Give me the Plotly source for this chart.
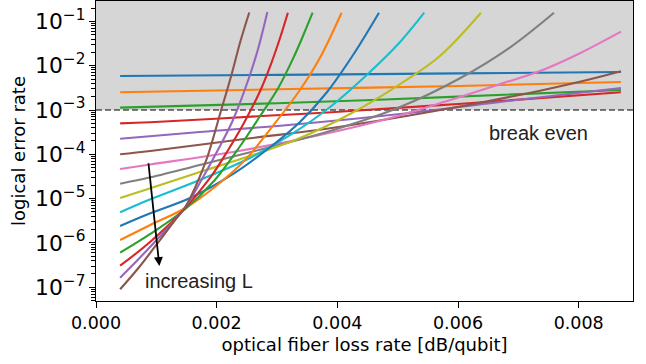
import math
import plotly.graph_objects as go

# ---- data ----
L1_x = [0.0004, 0.003, 0.006, 0.0087]
L1_y = [5.85e-3, 6.2e-3, 6.7e-3, 7.2e-3]
L2_x = [0.0004, 0.003, 0.006, 0.0087]
L2_y = [2.51e-3, 2.93e-3, 3.48e-3, 4.29e-3]
L3_x = [0.0004, 0.003, 0.006, 0.0087]
L3_y = [1.13e-3, 1.42e-3, 2.0e-3, 2.83e-3]
L4_x = [0.0004, 0.0009, 0.0029, 0.0039, 0.006, 0.0087]
L4_y = [5.0e-4, 5.3e-4, 7.5e-4, 8.9e-4, 1.37e-3, 2.51e-3]
L5_x = [0.0004, 0.00172, 0.00338, 0.00504, 0.0067, 0.0087]
L5_y = [2.25e-4, 3.19e-4, 4.83e-4, 8.12e-4, 1.52e-3, 3.14e-3]
L6_x = [0.0004, 0.0009, 0.00255, 0.00388, 0.00587, 0.00736, 0.00814, 0.0087]
L6_y = [1.0e-4, 1.19e-4, 2.3e-4, 3.86e-4, 1.09e-3, 2.73e-3, 4.75e-3, 7.47e-3]
L7_x = [0.0004, 0.0009, 0.00222, 0.00371, 0.00488, 0.00587, 0.0067, 0.00736, 0.00803, 0.0087]
L7_y = [4.66e-5, 5.9e-5, 1.1e-4, 2.73e-4, 6.6e-4, 1.68e-3, 3.86e-3, 7.59e-3, 1.94e-2, 5.86e-2]
L8_x = [0.0004, 0.0009, 0.00172, 0.00289, 0.00388, 0.00504, 0.00604, 0.00687, 0.00759]
L8_y = [2.17e-5, 3.03e-5, 5.73e-5, 1.46e-4, 3.36e-4, 1.17e-3, 5.28e-3, 2.64e-2, 0.157]
L9_x = [0.0004, 0.0009, 0.00172, 0.00255, 0.00338, 0.00421, 0.00504, 0.0057, 0.00638]
L9_y = [1.03e-5, 1.71e-5, 3.99e-5, 9.15e-5, 2.33e-4, 8.12e-4, 3.86e-3, 1.66e-2, 0.157]
L10_x = [0.0004, 0.0009, 0.00172, 0.00255, 0.00322, 0.00388, 0.00454, 0.00504, 0.00544]
L10_y = [4.91e-6, 9.64e-6, 2.63e-5, 8.25e-5, 2.73e-4, 1.17e-3, 7.21e-3, 3.43e-2, 0.157]
L11_x = [0.0004, 0.0009, 0.00156, 0.00222, 0.00289, 0.00338, 0.00383, 0.00426, 0.00469]
L11_y = [2.41e-6, 4.66e-6, 1.03e-5, 3.24e-5, 1.46e-4, 5.36e-4, 2.55e-3, 1.74e-2, 0.157]
L12_x = [0.0004, 0.0009, 0.00148, 0.00197, 0.00247, 0.00289, 0.00338, 0.00371, 0.00407]
L12_y = [1.16e-6, 2.54e-6, 6.14e-6, 1.83e-5, 7.43e-5, 3.72e-4, 2.83e-3, 1.49e-2, 0.157]
L13_x = [0.0004, 0.0009, 0.00148, 0.00197, 0.00239, 0.00272, 0.00302, 0.00327, 0.00343, 0.00359]
L13_y = [6.01e-7, 1.59e-6, 5.82e-6, 2.63e-5, 1.54e-4, 7.32e-4, 3.14e-3, 1.49e-2, 4.68e-2, 0.157]
L14_x = [0.0004, 0.0009, 0.00148, 0.00189, 0.00219, 0.00247, 0.00272, 0.0029, 0.00305, 0.00318]
L14_y = [3.06e-7, 1.06e-6, 6.14e-6, 2.92e-5, 1.25e-4, 5.65e-4, 2.69e-3, 1.09e-2, 4.22e-2, 0.157]
L15_x = [0.0004, 0.0009, 0.00148, 0.00172, 0.00202, 0.00227, 0.00254, 0.00269, 0.00284]
L15_y = [1.64e-7, 8.2e-7, 6.46e-6, 2.25e-5, 1.25e-4, 5.95e-4, 5.56e-3, 2.51e-2, 0.163]
L16_x = [0.0004, 0.00073, 0.00106, 0.00131, 0.00148, 0.00164, 0.00184, 0.00207, 0.00224, 0.00239, 0.00254]
L16_y = [8.96e-8, 3.01e-7, 1.16e-6, 3.29e-6, 6.46e-6, 1.74e-5, 8.25e-5, 9.49e-4, 5.86e-3, 3.43e-2, 0.159]

curves_x = [L1_x, L2_x, L3_x, L4_x, L5_x, L6_x, L7_x, L8_x,
            L9_x, L10_x, L11_x, L12_x, L13_x, L14_x, L15_x, L16_x]
curves_y = [L1_y, L2_y, L3_y, L4_y, L5_y, L6_y, L7_y, L8_y,
            L9_y, L10_y, L11_y, L12_y, L13_y, L14_y, L15_y, L16_y]

break_even = 1e-3
x_ticks = [0.0, 0.002, 0.004, 0.006, 0.008]
x_range = [0.0, 0.0089]
y_log_range = [-7.3115, -0.5395]

# arrow ("increasing L"): tail and head in data units
arrow_tail = (0.000867, 6.8e-5)
arrow_head = (0.00105, 3.0e-7)

colors = ["#1f77b4", "#ff7f0e", "#2ca02c", "#d62728", "#9467bd",
          "#8c564b", "#e377c2", "#7f7f7f", "#bcbd22", "#17becf"]

y_top = 10 ** y_log_range[1]

fig = go.Figure()
# grey region above break-even
fig.add_trace(go.Scatter(
    x=[x_range[0], x_range[1], x_range[1], x_range[0], x_range[0]],
    y=[break_even, break_even, y_top, y_top, break_even],
    mode="lines", fill="toself", fillcolor="#d6d6d6",
    line=dict(width=0, color="#d6d6d6"), showlegend=False, hoverinfo="skip"))
# break-even dashed line
fig.add_trace(go.Scatter(
    x=x_range, y=[break_even, break_even], mode="lines",
    line=dict(color="black", width=1.1, dash="6px,3px"),
    showlegend=False, hoverinfo="skip"))

for i, (xs, ys) in enumerate(zip(curves_x, curves_y)):
    fig.add_trace(go.Scatter(
        x=xs, y=ys, mode="lines",
        line=dict(color=colors[i % 10], width=2.1, shape="spline", smoothing=1.0),
        showlegend=False, hoverinfo="skip"))

fig.add_annotation(x=arrow_head[0], y=math.log10(arrow_head[1]),
                   ax=arrow_tail[0], ay=math.log10(arrow_tail[1]),
                   xref="x", yref="y", axref="x", ayref="y",
                   text="", showarrow=True, arrowhead=2, arrowsize=1,
                   arrowwidth=1.8, arrowcolor="black", standoff=0, startstandoff=0)
fig.add_annotation(x=0.001713, y=-6.86, xref="x", yref="y", text="increasing L",
                   showarrow=False, font=dict(family="Liberation Sans", size=20, color="#222"))
fig.add_annotation(x=0.007341, y=-3.51, xref="x", yref="y", text="break even",
                   showarrow=False, font=dict(family="Liberation Sans", size=20, color="#222"))

axis_font = dict(family="DejaVu Sans", size=17.5, color="black")
fig.update_layout(
    width=646, height=364,
    margin=dict(l=96, r=13, t=1, b=63),
    plot_bgcolor="white", paper_bgcolor="white",
    xaxis=dict(range=x_range, tickvals=x_ticks, tickformat=".3f",
               showline=True, linecolor="black", linewidth=1.2, mirror=True,
               ticks="outside", ticklen=6, tickwidth=1.2, tickcolor="black",
               showgrid=False, zeroline=False, tickfont=axis_font,
               title=dict(text="optical fiber loss rate [dB/qubit]",
                          font=dict(family="DejaVu Sans", size=18, color="black"),
                          standoff=6),
               automargin=False),
    yaxis=dict(type="log", range=y_log_range, dtick=1, exponentformat="power",
               showline=True, linecolor="black", linewidth=1.2, mirror=True,
               ticks="outside", ticklen=6, tickwidth=1.2, tickcolor="black",
               minor=dict(ticks="outside", ticklen=3.5, tickwidth=0.9, tickcolor="black", showgrid=False),
               showgrid=False, zeroline=False, tickfont=axis_font,
               title=dict(text="logical error rate",
                          font=dict(family="DejaVu Sans", size=18, color="black"),
                          standoff=4),
               automargin=False),
)

fig.write_html("out.html")
